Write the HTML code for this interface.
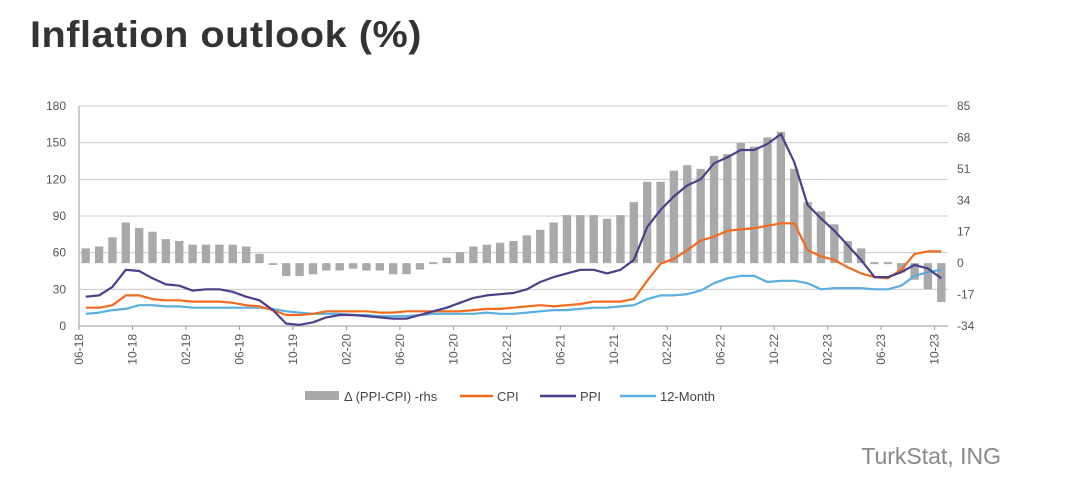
<!DOCTYPE html>
<html><head><meta charset="utf-8"><style>
body{margin:0;width:1079px;height:495px;background:#fff;overflow:hidden;font-family:"Liberation Sans",sans-serif}
</style></head><body>
<svg id="s" width="1079" height="495" xmlns="http://www.w3.org/2000/svg" font-family="Liberation Sans, sans-serif">
<text x="30" y="47" font-size="37" font-weight="600" fill="#333" textLength="392" lengthAdjust="spacingAndGlyphs" letter-spacing="0.5">Inflation outlook (%)</text>
<text x="1001" y="464" font-size="23" fill="#888" text-anchor="end">TurkStat, ING</text>
</svg>
<script>
const s=document.getElementById('s');
const L=79,R=948,T=106,B=326,W=(R-L)/65;
const yl=v=>B-v*(B-T)/180, yr=v=>B-(v+34)*(B-T)/119;
let h='';
for(let i=0;i<=6;i++){const v=i*30,y=yl(v);
 if(i>0)h+=`<line x1="${L}" x2="${R}" y1="${y}" y2="${y}" stroke="#c8c8c8" stroke-width="1"/>`;
 h+=`<text x="66" y="${y+4}" font-size="12" fill="#555" text-anchor="end">${v}</text>`;}
[85,68,51,34,17,0,-17,-34].forEach(v=>{h+=`<text x="957" y="${yr(v)+4}" font-size="12" fill="#555">${v}</text>`});
const bars=[8,9,14,22,19,17,13,12,10,10,10,10,9,5,-1,-7,-7,-6,-4,-4,-3,-4,-4,-6,-6,-3.5,-0.5,3,6,9,10,11,12,15,18,22,26,26,26,24,26,33,44,44,50,53,51,58,59,65,63,68,71,51,33,28,21,12,8,0.5,0.5,-5,-9,-14,-21];
bars.forEach((v,i)=>{const x=L+i*W+2.5,y0=yr(0),y1=yr(v);
 if(Math.abs(v)<1){h+=`<rect x="${x}" y="${y0-1}" width="${W-5}" height="2" fill="#aaa"/>`;}
 else h+=`<rect x="${x}" y="${Math.min(y0,y1)}" width="${W-5}" height="${Math.abs(y1-y0)}" fill="#a9a9a9"/>`;});
h+=`<line x1="${L}" x2="${R}" y1="${B}" y2="${B}" stroke="#999"/><line x1="${L}" x2="${L}" y1="${T}" y2="${B}" stroke="#999"/>`;
const labs=['06-18','10-18','02-19','06-19','10-19','02-20','06-20','10-20','02-21','06-21','10-21','02-22','06-22','10-22','02-23','06-23','10-23'];
labs.forEach((t,k)=>{const x=L+k*4*W;h+=`<line x1="${x}" x2="${x}" y1="${B}" y2="${B+4}" stroke="#999"/><text transform="translate(${x+4},${B+8}) rotate(-90)" font-size="12" fill="#555" text-anchor="end">${t}</text>`;});
const ppi=[24,25,32,46,45,39,34,33,29,30,30,28,24,21,13,2,1,3,7,9,9,8,7,6,6,9,12,15,19,23,25,26,27,30,36,40,43,46,46,43,46,54,81,95,106,115,120,133,138,144,144,149,157,134,99,88,78,66,54,40,40,44,50,47,39];
const cpi=[15,15,17,25,25,22,21,21,20,20,20,19,17,16,13,9,9,10,12,12,12,12,11,11,12,12,12,12,12,13,14,14,15,16,17,16,17,18,20,20,20,22,37,51,55,62,70,73,78,79,80,82,84,84,62,57,54,48,43,40,39,46,59,61,61];
const m12=[10,11,13,14,17,17,16,16,15,15,15,15,15,15,14,12,11,10,10,10,9,9,8,8,8,9,10,10,10,10,11,10,10,11,12,13,13,14,15,15,16,17,22,25,25,26,29,35,39,41,41,36,37,37,35,30,31,31,31,30,30,33,41,44,46];
const line=(d,c)=>`<polyline fill="none" stroke="${c}" stroke-width="2.2" stroke-linejoin="round" points="${d.map((v,i)=>(L+(i+0.5)*W).toFixed(1)+','+yl(v).toFixed(1)).join(' ')}"/>`;
h+=line(m12,'#5aaee0')+line(cpi,'#f26b1d')+line(ppi,'#4b3f8c');
const ly=396;
h+=`<rect x="305" y="${ly-5}" width="34" height="9" fill="#a9a9a9"/><text x="344" y="${ly+5}" font-size="13" fill="#444">Δ (PPI-CPI) -rhs</text>`;
h+=`<line x1="460" x2="493" y1="${ly}" y2="${ly}" stroke="#f26b1d" stroke-width="2.5"/><text x="497" y="${ly+5}" font-size="13" fill="#444">CPI</text>`;
h+=`<line x1="540" x2="576" y1="${ly}" y2="${ly}" stroke="#4b3f8c" stroke-width="2.5"/><text x="580" y="${ly+5}" font-size="13" fill="#444">PPI</text>`;
h+=`<line x1="620" x2="656" y1="${ly}" y2="${ly}" stroke="#5aaee0" stroke-width="2.5"/><text x="660" y="${ly+5}" font-size="13" fill="#444">12-Month</text>`;
s.insertAdjacentHTML('beforeend',h);
</script>
</body></html>
